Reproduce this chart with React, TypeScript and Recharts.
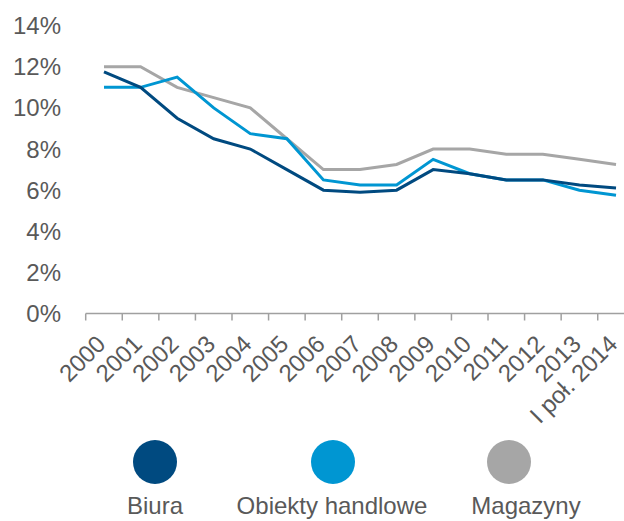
import React from 'react';
import { LineChart, Line, XAxis, YAxis, Legend } from 'recharts';

const years = [
  '2000', '2001', '2002', '2003', '2004', '2005', '2006', '2007',
  '2008', '2009', '2010', '2011', '2012', '2013', 'I poł. 2014',
];
const biura = [11.75, 11.0, 9.5, 8.5, 8.0, 7.0, 6.0, 5.9, 6.0, 7.0, 6.8, 6.5, 6.5, 6.25, 6.1];
const handlowe = [11.0, 11.0, 11.5, 10.0, 8.75, 8.5, 6.5, 6.25, 6.25, 7.5, 6.8, 6.5, 6.5, 6.0, 5.75];
const magazyny = [12.0, 12.0, 11.0, 10.5, 10.0, 8.5, 7.0, 7.0, 7.25, 8.0, 8.0, 7.75, 7.75, 7.5, 7.25];
const yTicks = [0, 2, 4, 6, 8, 10, 12, 14];
// tick marks sit on the category edges, points and labels in the middle
const edgeTicks = [...years.map((_, i) => i), years.length];

const legendOrder = ['Biura', 'Obiekty handlowe', 'Magazyny'];

const data = years.map((year, i) => ({
  pos: i + 0.5,
  year,
  biura: biura[i],
  handlowe: handlowe[i],
  magazyny: magazyny[i],
}));

const FONT = '"Liberation Sans", Arial, sans-serif';
const TEXT = '#595959';
const AXIS = '#A0A0A0';

function YearTick({ x, y, payload, width }: any) {
  const label = years[payload.value];
  if (!label) return <g />;
  const step = (typeof width === 'number' && width > 0 ? width : 548.6) / years.length;
  const tx = x + step / 2 + 3;
  const ty = y + 23;
  return (
    <text
      x={tx}
      y={ty}
      transform={`rotate(-45 ${tx} ${ty})`}
      textAnchor="end"
      fill={TEXT}
      fontSize={24}
      fontFamily={FONT}
    >
      {label}
    </text>
  );
}

// dot centre / label centre for each legend entry
const legendSpots = [
  { dot: 155, label: 155 },
  { dot: 333, label: 332 },
  { dot: 509, label: 526 },
];

function LegendBox({ payload }: any) {
  const items = [...(payload ?? [])].sort(
    (a: any, b: any) => legendOrder.indexOf(a.value) - legendOrder.indexOf(b.value),
  );
  return (
    <div style={{ position: 'relative', width: 624, height: 86, fontFamily: FONT }}>
      {items.map((item: any, i: number) => {
        const spot = legendSpots[i];
        return (
          <React.Fragment key={item.value}>
            <div
              style={{
                position: 'absolute',
                left: spot.dot - 22,
                top: 5,
                width: 44,
                height: 44,
                borderRadius: '50%',
                background: item.color,
              }}
            />
            <div
              style={{
                position: 'absolute',
                left: spot.label - 150,
                top: 57,
                width: 300,
                textAlign: 'center',
                fontSize: 24,
                lineHeight: '27px',
                color: TEXT,
                whiteSpace: 'nowrap',
              }}
            >
              {item.value}
            </div>
          </React.Fragment>
        );
      })}
    </div>
  );
}

export default function App() {
  return (
    <div
      style={{
        position: 'absolute',
        left: 0,
        top: 0,
        width: 624,
        height: 521,
        overflow: 'hidden',
        background: '#fff',
      }}
    >
      <LineChart
        width={640}
        height={521}
        data={data}
        margin={{ top: 25.7, right: 5.7, left: 0, bottom: 0 }}
        style={{ fontFamily: FONT }}
      >
        <XAxis
          dataKey="pos"
          type="number"
          domain={[0, years.length]}
          ticks={edgeTicks}
          interval={0}
          allowDataOverflow
          tickSize={7}
          tickMargin={2}
          height={121.5}
          axisLine={{ stroke: AXIS, strokeWidth: 1.5 }}
          tickLine={{ stroke: AXIS, strokeWidth: 1.5 }}
          tick={<YearTick />}
        />
        <YAxis
          domain={[0, 14]}
          ticks={yTicks}
          tickFormatter={(v: number) => `${v}%`}
          axisLine={false}
          tickLine={false}
          tickSize={0}
          tickMargin={24.7}
          width={85.7}
          tick={{ fill: TEXT, fontSize: 24, fontFamily: FONT }}
        />
        <Legend
          verticalAlign="bottom"
          layout="horizontal"
          content={<LegendBox />}
          wrapperStyle={{ left: 0, width: 624 }}
        />
        <Line
          dataKey="magazyny"
          name="Magazyny"
          stroke="#A6A6A6"
          strokeWidth={3}
          dot={false}
          isAnimationActive={false}
        />
        <Line
          dataKey="handlowe"
          name="Obiekty handlowe"
          stroke="#0096D2"
          strokeWidth={3}
          dot={false}
          isAnimationActive={false}
        />
        <Line
          dataKey="biura"
          name="Biura"
          stroke="#004A80"
          strokeWidth={3}
          dot={false}
          isAnimationActive={false}
        />
      </LineChart>
    </div>
  );
}
